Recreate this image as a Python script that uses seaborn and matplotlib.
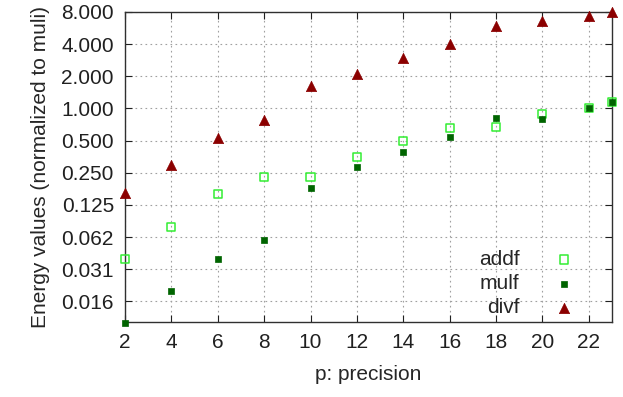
import numpy as np
import pandas as pd
import matplotlib
matplotlib.use("Agg")
import matplotlib.pyplot as plt
import matplotlib.ticker as mticker
import seaborn as sns

precision = [2, 4, 6, 8, 10, 12, 14, 16, 18, 20, 22, 23]
addf = [0.039, 0.078, 0.157, 0.229, 0.229, 0.348, 0.493, 0.653, 0.668, 0.891, 1.01, 1.16]
mulf = [0.0098, 0.0194, 0.039, 0.058, 0.178, 0.281, 0.394, 0.545, 0.82, 0.79, 1.0, 1.16]
divf = [0.16, 0.297, 0.53, 0.78, 1.61, 2.09, 2.95, 3.97, 5.95, 6.54, 7.34, 8.0]
y_ticks = [0.015625, 0.03125, 0.0625, 0.125, 0.25, 0.5, 1, 2, 4, 8]
x_ticks = [2, 4, 6, 8, 10, 12, 14, 16, 18, 20, 22]

sns.set_style("ticks")
plt.rcParams["font.family"] = ["Liberation Sans", "DejaVu Sans"]
plt.rcParams["font.size"] = 15

df = pd.DataFrame({"p": precision, "addf": addf, "mulf": mulf, "divf": divf})

fig = plt.figure(figsize=(6.23, 3.97), dpi=100)
ax = fig.add_axes([125 / 623, 1 - 322 / 397, 487 / 623, 310 / 397])

sns.scatterplot(data=df, x="p", y="addf", ax=ax, marker="s", s=34,
                facecolor="none", edgecolor="#33ee33", linewidth=1.1,
                label="addf", clip_on=False, zorder=3)
sns.scatterplot(data=df, x="p", y="mulf", ax=ax, marker="s", s=16,
                color="#006400", edgecolor="#006400", linewidth=0.5,
                label="mulf", clip_on=False, zorder=3)
sns.scatterplot(data=df, x="p", y="divf", ax=ax, marker="^", s=55,
                color="#8b0000", edgecolor="#8b0000", linewidth=0.5,
                label="divf", clip_on=False, zorder=3)

ax.set_yscale("log", base=2)
ax.set_ylim(0.01, 8)
ax.set_xlim(2, 23)
ax.yaxis.set_major_locator(mticker.FixedLocator(y_ticks))
ax.yaxis.set_major_formatter(mticker.FuncFormatter(lambda v, pos: "%.3f" % v))
ax.yaxis.set_minor_locator(mticker.NullLocator())
ax.set_xticks(x_ticks)

ax.grid(True, color="#a0a0a0", linestyle=(0, (1.5, 3)), linewidth=0.8)
ax.tick_params(direction="in", length=5, width=0.8, top=True, right=True,
               labelsize=15, colors="#202020", pad=8)
for sp in ax.spines.values():
    sp.set_linewidth(1.0)
    sp.set_color("#303030")

ax.set_xlabel("p: precision", labelpad=9)
ax.set_ylabel("Energy values (normalized to muli)", labelpad=8)

leg = ax.legend(loc="lower right", frameon=False, markerfirst=False,
                bbox_to_anchor=(0.962, -0.012), borderaxespad=0.0,
                handletextpad=1.15, labelspacing=0.25, fontsize=15)

fig.savefig("out.png", dpi=100)
